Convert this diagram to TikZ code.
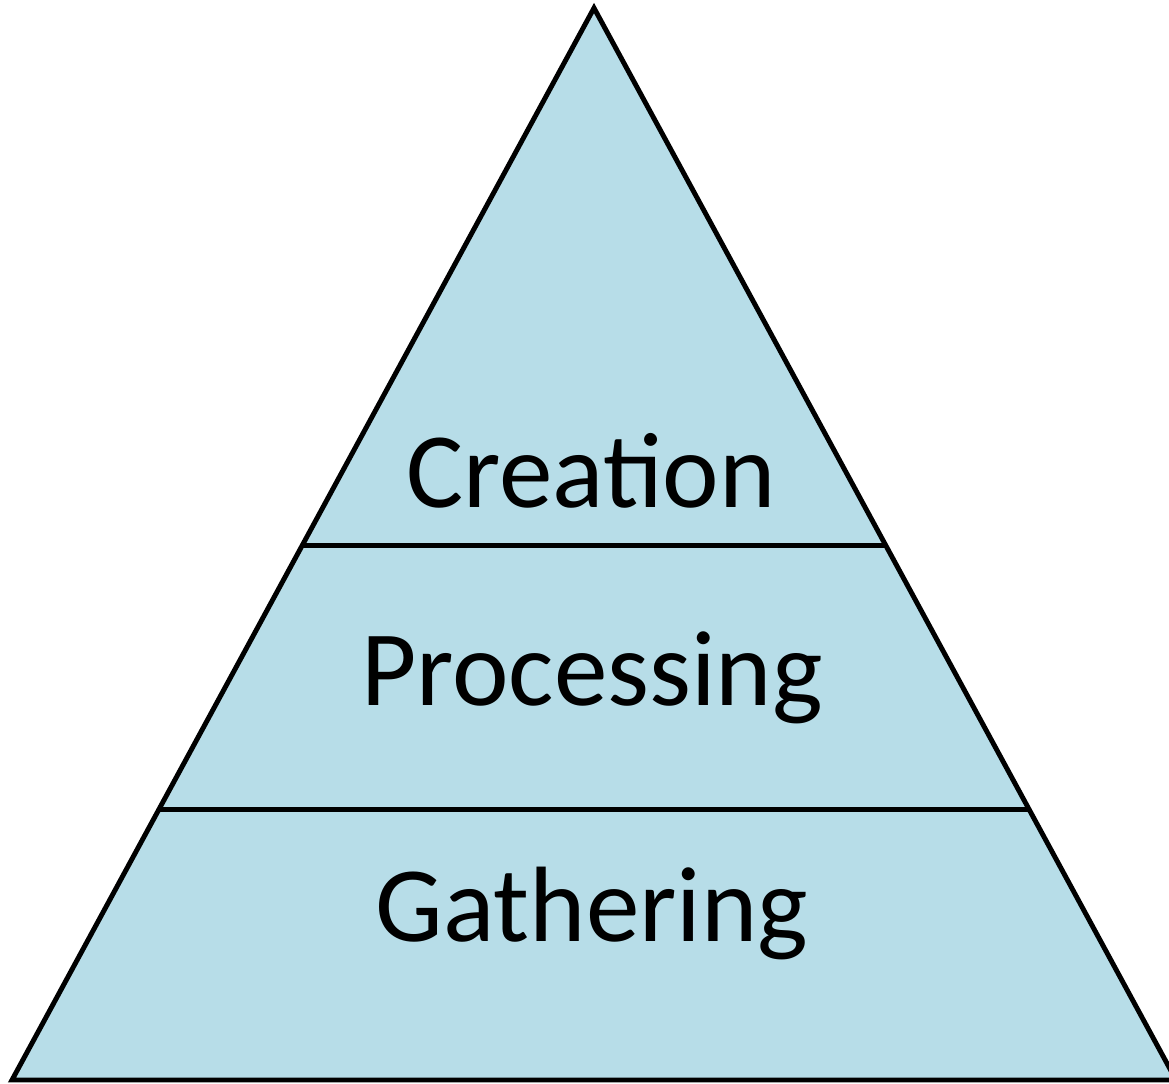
\documentclass[tikz,border=0pt]{standalone}
\usepackage{fontspec}
\setmainfont{Carlito}
\usepackage{xcolor}
\usetikzlibrary{calc}
\definecolor{pyrblue}{RGB}{183,221,232}

\begin{document}
\begin{tikzpicture}[
    x=0.02cm, y=-0.02cm,
    % Shape styles
    pyramid/.style={draw=black, fill=pyrblue, line width=2.8pt, line join=miter},
    divider/.style={draw=black, line width=2.8pt},
    % Text styles
    tier/.style={font=\fontsize{61}{63}\selectfont, inner sep=0pt}
]
\useasboundingbox (0,0) rectangle (1169,1084);

% Corners
\coordinate (apex) at (594,8);
\coordinate (bl) at (12,1080);
\coordinate (br) at (1176,1080);

% Triangle
\draw[pyramid] (bl) -- (apex) -- (br) -- cycle;

% Divider ends
\coordinate (d1l) at ($(apex)!0.501!(bl)$);
\coordinate (d1r) at ($(apex)!0.501!(br)$);
\coordinate (d2l) at ($(apex)!0.748!(bl)$);
\coordinate (d2r) at ($(apex)!0.748!(br)$);

\draw[divider] (d1l) -- (d1r);
\draw[divider] (d2l) -- (d2r);

% Tier labels
\node[tier] (creation) at (591,471) {Creation};
\node[tier] (processing) at (592,678) {Processing};
\node[tier] (gathering) at (592,913) {Gathering};

\end{tikzpicture}
\end{document}
